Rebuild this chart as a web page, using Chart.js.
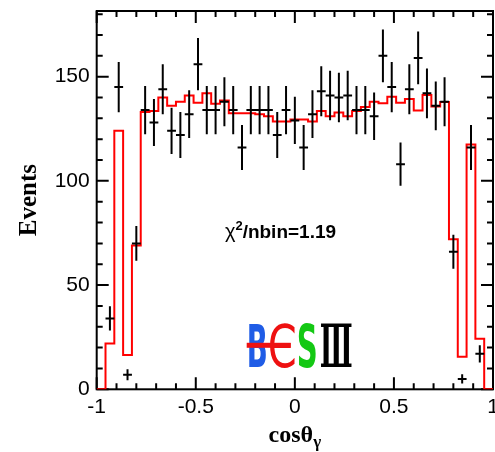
<!DOCTYPE html>
<html>
<head>
<meta charset="utf-8">
<script src="https://cdn.jsdelivr.net/npm/chart.js@4.4.1/dist/chart.umd.min.js"></script>
<style>
html, body { margin: 0; padding: 0; background: #fff; }
</style>
</head>
<body>
<canvas id="grafico" width="495" height="452"></canvas>
<script>
// 45 bins in cos(theta_gamma) from -1 to 1
const dataCounts = [0, 34, 145, 7, 70, 134, 128, 144, 124, 122, 132, 156, 134, 134, 138,
    134, 116, 134, 134, 134, 122, 134, 129, 116, 132, 143, 141, 140, 141, 134,
    134, 131, 160, 145, 108, 144, 159, 142, 136, 138, 66, 5, 116, 17, 0]

const fitValues = [0, 22, 124, 16.5, 69, 133, 133.5, 140, 136, 138, 141, 137.5, 142, 137, 138.5,
    132.5, 132.5, 132.5, 132, 131, 128.5, 128.5, 129.5, 129.5, 128.5, 133.5, 131, 132.8, 131, 133.5,
    135.5, 138, 137.2, 140.3, 137.5, 139.3, 133.8, 141.2, 135.7, 137.9, 72, 15.6, 117.5, 24.3, 0]

const xTickValues = [-1, -0.5, 0, 0.5, 1]
const xTickLabels = ["-1", "-0.5", "0", "0.5", "1"]
const yTickValues = [0, 50, 100, 150]
const yTickLabels = ["0", "50", "100", "150"]
const chiValue = "1.19"

const nBins = dataCounts.length
const binWidth = 2 / nBins

// red fit histogram, one point on the left edge of each bin + closing point at x = 1
let fitLine = fitValues.map((v, i) => ({ x: -1 + i * binWidth, y: v }))
fitLine.push({ x: 1, y: fitValues[nBins - 1] })

// data points: vertical sqrt(N) error and horizontal bin-width bar, split by nulls
let errorLines = []
dataCounts.forEach((n, i) => {
    if (n <= 0) return
    const c = -1 + (i + 0.5) * binWidth
    const e = Math.sqrt(n)
    errorLines.push({ x: c, y: n - e }, { x: c, y: n + e }, { x: c, y: null })
    errorLines.push({ x: c - binWidth / 2, y: n }, { x: c + binWidth / 2, y: n }, { x: c, y: null })
})

const moldura = {
    id: 'moldura',
    beforeDatasetsDraw(chart) {
        const ctx = chart.ctx
        const a = chart.chartArea
        const xs = chart.scales.x
        const ys = chart.scales.y
        ctx.save()
        ctx.strokeStyle = '#000'
        ctx.lineWidth = 2
        ctx.strokeRect(a.left, a.top, a.right - a.left, a.bottom - a.top)
        ctx.beginPath()
        for (let k = 0; k <= 20; k++) {
            const v = -1 + k * 0.1
            const len = (k % 5 === 0) ? 12 : 6
            const px = xs.getPixelForValue(v)
            ctx.moveTo(px, a.bottom); ctx.lineTo(px, a.bottom - len)
            ctx.moveTo(px, a.top); ctx.lineTo(px, a.top + len)
        }
        for (let v = 0; v <= 180; v += 10) {
            const len = (v % 50 === 0) ? 12 : 6
            const py = ys.getPixelForValue(v)
            ctx.moveTo(a.left, py); ctx.lineTo(a.left + len, py)
            ctx.moveTo(a.right, py); ctx.lineTo(a.right - len, py)
        }
        ctx.stroke()
        ctx.restore()
    },
    afterDraw(chart) {
        const ctx = chart.ctx
        const a = chart.chartArea
        const xs = chart.scales.x
        const ys = chart.scales.y
        ctx.save()
        ctx.fillStyle = '#000'
        ctx.textBaseline = 'alphabetic'

        // x axis title: cos theta_gamma
        const tx = (a.left + a.right) / 2
        const ty = a.bottom + 53
        ctx.font = 'bold 24px "Liberation Serif"'
        const w1 = ctx.measureText('cosθ').width
        ctx.font = 'bold 17px "Liberation Serif"'
        const w2 = ctx.measureText('γ').width
        let sx = tx - (w1 + w2) / 2
        ctx.font = 'bold 24px "Liberation Serif"'
        ctx.fillText('cosθ', sx, ty)
        ctx.font = 'bold 17px "Liberation Serif"'
        ctx.fillText('γ', sx + w1, ty + 5)

        // chi2 label
        let cx = xs.getPixelForValue(-0.353)
        const cy = ys.getPixelForValue(72.6)
        ctx.font = '20px "Liberation Sans"'
        ctx.fillText('χ', cx, cy)
        cx += ctx.measureText('χ').width
        ctx.font = 'bold 13px "Liberation Sans"'
        ctx.fillText('2', cx, cy - 8)
        cx += ctx.measureText('2').width
        ctx.font = 'bold 19px "Liberation Sans"'
        ctx.fillText('/nbin=' + chiValue, cx, cy)

        // BESIII logo
        const lx = xs.getPixelForValue(-0.243)
        const lb = ys.getPixelForValue(10.8)
        const letra = (ch, font, color, left, w) => {
            ctx.save()
            ctx.font = font
            const mw = ctx.measureText(ch).width
            ctx.translate(left, lb)
            ctx.scale(w / mw, 1)
            ctx.fillStyle = color
            ctx.fillText(ch, 0, 0)
            ctx.restore()
        }
        letra('B', 'bold 59px "DejaVu Sans"', '#1f5ce6', lx, 21)
        letra('Є', '59px "DejaVu Sans"', '#ee1111', lx + 21, 29)
        letra('S', 'bold 59px "DejaVu Sans"', '#14c814', lx + 50, 21)
        letra('Ⅲ', 'bold 59px "DejaVu Serif"', '#000', lx + 73, 33)
        ctx.fillStyle = '#ee1111'
        ctx.fillRect(lx, lb - 24, 44, 5)
        ctx.restore()
    }
}

new Chart(document.getElementById('grafico'), {
    type: 'line',
    data: {
        datasets: [{
            label: 'data',
            data: errorLines,
            borderColor: '#000',
            borderWidth: 2,
            pointRadius: 0,
            spanGaps: false,
            fill: false
        }, {
            label: 'fit',
            data: fitLine,
            stepped: 'before',
            borderColor: 'rgb(255, 0, 0)',
            borderWidth: 2,
            pointRadius: 0,
            fill: false
        }]
    },
    options: {
        responsive: false,
        animation: false,
        layout: { padding: { left: 0, top: 11, right: 2, bottom: 0 } },
        plugins: { legend: { display: false }, tooltip: { enabled: false } },
        scales: {
            x: {
                type: 'linear',
                min: -1,
                max: 1,
                grid: { display: false, drawTicks: false },
                border: { display: false },
                afterBuildTicks: (s) => { s.ticks = xTickValues.map(v => ({ value: v })) },
                afterFit: (s) => { s.height = 62.7; s.paddingLeft = 0; s.paddingRight = 0 },
                ticks: {
                    autoSkip: false,
                    maxRotation: 0,
                    padding: 5,
                    color: '#000',
                    font: { family: 'Liberation Sans', size: 21 },
                    callback: (v, i) => xTickLabels[i]
                }
            },
            y: {
                min: 0,
                max: 181.5,
                grid: { display: false, drawTicks: false },
                border: { display: false },
                afterBuildTicks: (s) => { s.ticks = yTickValues.map(v => ({ value: v })) },
                afterFit: (s) => { s.width = 96.7; s.paddingTop = 0; s.paddingBottom = 0 },
                ticks: {
                    padding: 7,
                    color: '#000',
                    font: { family: 'Liberation Sans', size: 21 },
                    callback: (v, i) => yTickLabels[i]
                },
                title: {
                    display: true,
                    text: 'Events',
                    color: '#000',
                    font: { family: 'Liberation Serif', size: 25, weight: 'bold' },
                    padding: { top: 15, bottom: 0 }
                }
            }
        }
    },
    plugins: [moldura]
});
</script>
</body>
</html>
